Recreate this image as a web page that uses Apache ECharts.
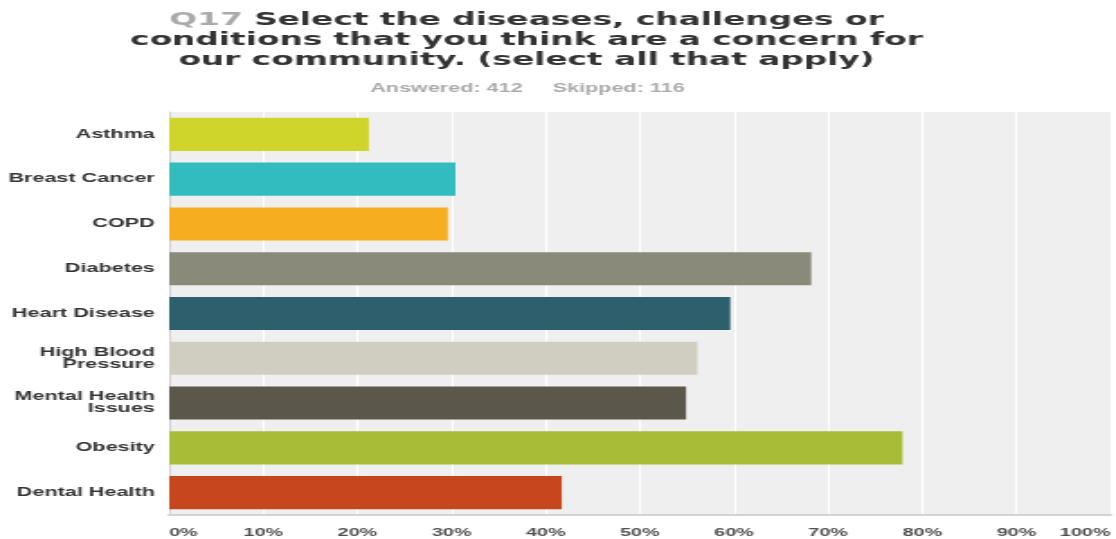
<!DOCTYPE html>
<html><head><meta charset="utf-8">
<script src="https://cdn.jsdelivr.net/npm/echarts@6/dist/echarts.min.js"></script>
<style>
html,body{margin:0;padding:0;background:#fff;overflow:hidden;}
#wrap{width:1116px;height:539px;overflow:hidden;position:relative;}
#chart{width:620px;height:539px;transform:scaleX(1.8);transform-origin:0 0;}
</style></head><body>
<div id="wrap"><div id="chart"></div></div>
<script>
const categories = ['Asthma', 'Breast Cancer', 'COPD', 'Diabetes', 'Heart Disease', 'High Blood\nPressure', 'Mental Health\nIssues', 'Obesity', 'Dental Health'];
const values = [21.2, 30.4, 29.6, 68.2, 59.6, 56.1, 54.9, 77.9, 41.7];
const barColors = ['#cfd52a', '#33bcbf', '#f6ae20', '#8a8a7a', '#2e5f6d', '#d0cec1', '#5b584b', '#a9bc38', '#c6461d'];
const tickLabels = ['0%', '10%', '20%', '30%', '40%', '50%', '60%', '70%', '80%', '90%', '100%'];
const titleText = '{q|Q17} Select the diseases, challenges or\nconditions that you think are a concern for\nour community. (select all that apply)';
const subText = 'Answered: 412     Skipped: 116';

const chart = echarts.init(document.getElementById('chart'));
chart.setOption({
  animation: false,
  title: [{
    text: titleText,
    left: 292.5, top: 10, textAlign: 'center', padding: 0,
    textStyle: {
      fontFamily: 'DejaVu Sans', fontWeight: 'bold', fontSize: 18.2, lineHeight: 20, color: '#333',
      rich: { q: { fontFamily: 'DejaVu Sans', fontWeight: 'bold', fontSize: 18.2, lineHeight: 20, color: '#aaa' } }
    }
  }, {
    text: subText,
    left: 293, top: 83, textAlign: 'center', padding: 0,
    textStyle: { fontFamily: 'Liberation Sans', fontWeight: 'bold', fontSize: 12, color: '#aaa' }
  }],
  grid: { left: 94, right: 2, top: 112, bottom: 24, show: true, backgroundColor: '#efefef', borderWidth: 0, containLabel: false },
  xAxis: {
    type: 'value', min: 0, max: 100, interval: 10,
    axisLine: { show: true, lineStyle: { color: '#d3d3d3', width: 2 } },
    axisTick: { show: false },
    splitLine: { show: true, lineStyle: { color: '#ffffff', width: 1 } },
    axisLabel: {
      margin: 12, color: '#4f4f4f', fontFamily: 'Liberation Sans', fontWeight: 'bold', fontSize: 11,
      alignMinLabel: 'left', alignMaxLabel: 'right',
      formatter: v => tickLabels[Math.round(v / 10)]
    }
  },
  yAxis: {
    type: 'category', data: categories, inverse: true,
    axisLine: { show: true, lineStyle: { color: '#cfcfcf', width: 1 } },
    axisTick: { show: false },
    splitLine: { show: false },
    axisLabel: { margin: 8, color: '#333', fontFamily: 'Liberation Sans', fontWeight: 'bold', fontSize: 12, lineHeight: 12 }
  },
  series: [{
    type: 'bar',
    data: values.map((v, i) => ({ value: v, itemStyle: { color: barColors[i] } })),
    barCategoryGap: '26%'
  }]
});
</script>
</body></html>
